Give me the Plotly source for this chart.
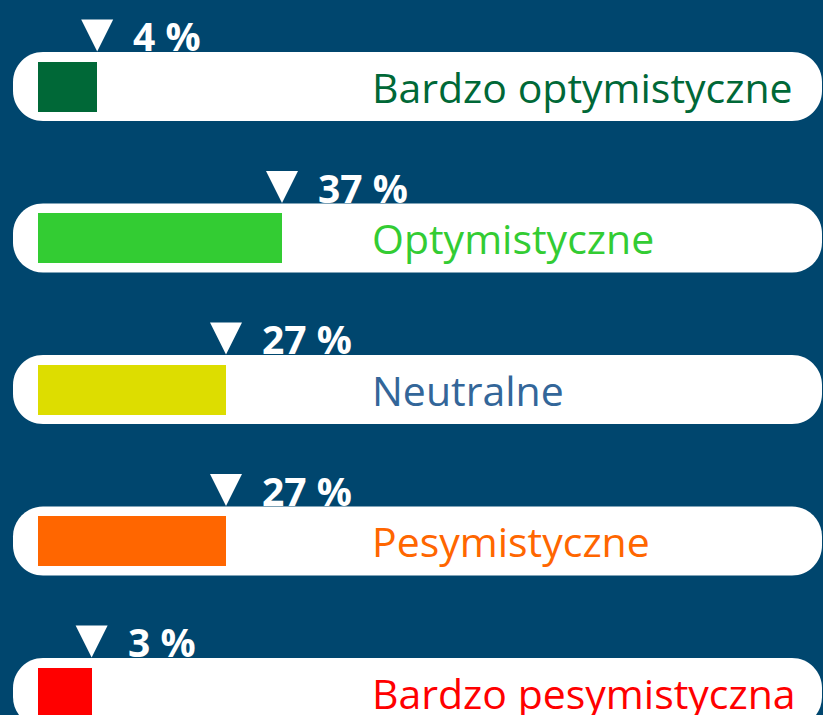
import plotly.graph_objects as go

# ---- data ----
categories = ["Bardzo optymistyczne", "Optymistyczne", "Neutralne", "Pesymistyczne", "Bardzo pesymistyczna"]
values = [4, 37, 27, 27, 3]
value_labels = ["4 %", "37 %", "27 %", "27 %", "3 %"]
bar_colors = ["#006837", "#33cc33", "#dddd00", "#ff6600", "#ff0000"]
label_colors = ["#006837", "#33cc33", "#336699", "#ff6600", "#ff0000"]

# ---- layout constants (pixels) ----
W, H = 823, 715
BG = "#00466e"
X0_PX, PX_PER_UNIT = 74.8, 5.6       # x pixel of value 0, pixels per percent
Y0_PX, ROW_PX = 86.5, 151.5           # y pixel of first row centre, row pitch
BAR_BASE = (38 - X0_PX) / PX_PER_UNIT
BAR_H = 50 / ROW_PX
PILL_L, PILL_R, PILL_HALF, PILL_RAD = 13, 822, 34.5, 30
K = 0.5523

xr = [-X0_PX / PX_PER_UNIT, (W - X0_PX) / PX_PER_UNIT]
yr = [(H - Y0_PX) / ROW_PX, -Y0_PX / ROW_PX]

rows = list(range(len(categories)))

fig = go.Figure()


def P(x, y):
    return f"{x / W:.5f},{1 - y / H:.5f}"


shapes = []
for i in rows:
    cy = Y0_PX + ROW_PX * i
    t, b = cy - PILL_HALF, cy + PILL_HALF
    L, R, r = PILL_L, PILL_R, PILL_RAD
    c = r * (1 - K)
    path = (f"M{P(L + r, t)} L{P(R - r, t)} C{P(R - c, t)} {P(R, t + c)} {P(R, t + r)} "
            f"L{P(R, b - r)} C{P(R, b - c)} {P(R - c, b)} {P(R - r, b)} "
            f"L{P(L + r, b)} C{P(L + c, b)} {P(L, b - c)} {P(L, b - r)} "
            f"L{P(L, t + r)} C{P(L, t + c)} {P(L + c, t)} {P(L + r, t)} Z")
    shapes.append(dict(type="path", xref="paper", yref="paper", path=path,
                       fillcolor="white", line=dict(width=0), layer="below"))

fig.add_trace(go.Bar(
    x=[v - BAR_BASE for v in values], y=rows, base=BAR_BASE, orientation="h",
    marker=dict(color=bar_colors, line=dict(width=0)), width=BAR_H,
    hoverinfo="skip", showlegend=False,
))

# triangles pointing at bar ends
tri_half_w = 16 / PX_PER_UNIT
tri_h = 32 / ROW_PX
apex_off = 35 / ROW_PX
for i, v in zip(rows, values):
    ya = i - apex_off
    fig.add_trace(go.Scatter(
        x=[v - tri_half_w, v + tri_half_w, v, v - tri_half_w],
        y=[ya - tri_h, ya - tri_h, ya, ya - tri_h],
        fill="toself", fillcolor="white", mode="lines", line=dict(width=0, color="white"),
        hoverinfo="skip", showlegend=False,
    ))

annotations = []
for i, v, lab in zip(rows, values, value_labels):
    annotations.append(dict(
        x=v, y=i - 51 / ROW_PX, xref="x", yref="y", text=f"<b>{lab}</b>",
        showarrow=False, xanchor="left", yanchor="middle", xshift=34,
        font=dict(family="Open Sans", size=39, color="white"),
    ))
for i, cat, col in zip(rows, categories, label_colors):
    annotations.append(dict(
        x=370 / W, y=i, xref="paper", yref="y", text=cat,
        showarrow=False, xanchor="left", yanchor="middle",
        font=dict(family="Open Sans", size=41, color=col),
    ))

fig.update_layout(
    width=W, height=H, margin=dict(l=0, r=0, t=0, b=0),
    paper_bgcolor=BG, plot_bgcolor=BG,
    xaxis=dict(range=xr, visible=False, fixedrange=True),
    yaxis=dict(range=yr, visible=False, fixedrange=True),
    shapes=shapes, annotations=annotations, bargap=0,
)

fig.write_html("out.html", config={"displayModeBar": False},
               post_script="document.body.style.margin='0';document.body.style.overflow='hidden';document.body.style.background='" + BG + "';")
